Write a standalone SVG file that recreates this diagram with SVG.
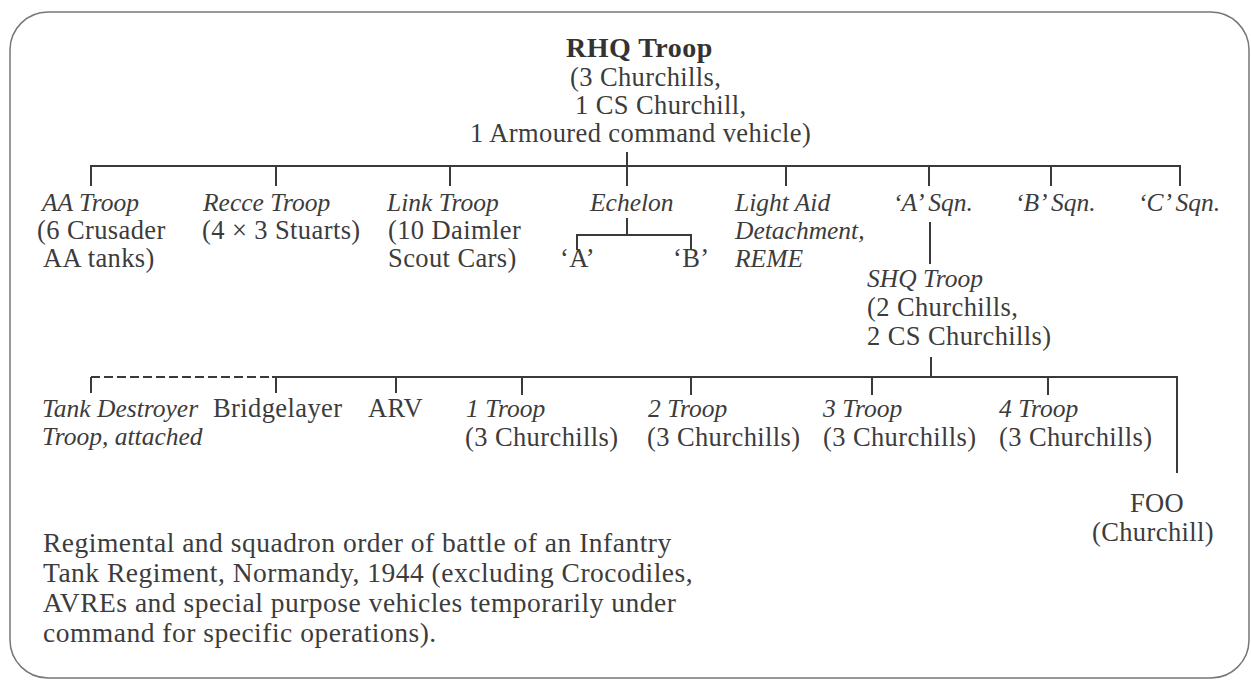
<svg xmlns="http://www.w3.org/2000/svg" width="1251" height="681" viewBox="0 0 1251 681">
<style>
text{font-family:"Liberation Serif","Times New Roman",serif;font-size:26.5px;fill:#3c3c3c;letter-spacing:0.4px}
.i{font-style:italic;font-size:25.5px;letter-spacing:0}
.b{font-weight:bold;font-size:28px;fill:#333;letter-spacing:0.5px}
.cap{font-size:27.5px;letter-spacing:0.5px}
.ln{stroke:#3a3a3a;stroke-width:2;fill:none}
.ds{stroke:#3a3a3a;stroke-width:2;fill:none;stroke-dasharray:9 4}
.frame{fill:#fff;stroke:#777;stroke-width:1.5}
</style>
<rect width="1251" height="681" fill="#fff"/>
<rect class="frame" x="10" y="12" width="1239" height="666" rx="38" ry="38"/>
<g id="connectors">
<path class="ln" d="M91 186V166H1180V186M276 166V186M450 166V186M627 152V186M786 166V186M929 166V186M1051 166V186"/>
<path class="ln" d="M627 218V235M577 250V235H691V250"/>
<path class="ln" d="M930 222V264"/>
<path class="ln" d="M931 357V377"/>
<path class="ds" d="M91 377H272"/>
<path class="ln" d="M91 377V393M272 377H1177V473M276 377V393M396 377V393M522 377V395M691 377V395M872 377V395M1048 377V395"/>
</g>
<g id="rhq"><text class="b" x="566" y="57">RHQ Troop</text><text x="570" y="86">(3 Churchills,</text><text x="575" y="114">1 CS Churchill,</text><text x="470" y="142">1 Armoured command vehicle)</text></g>
<g id="aa"><text class="i" x="42" y="211">AA Troop</text><text x="37" y="239">(6 Crusader</text><text x="43" y="267">AA tanks)</text></g>
<g id="recce"><text class="i" x="203" y="211">Recce Troop</text><text x="202" y="239">(4 × 3 Stuarts)</text></g>
<g id="link"><text class="i" x="387" y="211">Link Troop</text><text x="388" y="239">(10 Daimler</text><text x="388" y="267">Scout Cars)</text></g>
<g id="echelon"><text class="i" x="590" y="211">Echelon</text></g>
<g id="echelon-a"><text x="560" y="267">‘A’</text></g>
<g id="echelon-b"><text x="673" y="267">‘B’</text></g>
<g id="lad"><text class="i" x="735" y="211">Light Aid</text><text class="i" x="735" y="239">Detachment,</text><text class="i" x="735" y="267">REME</text></g>
<g id="a-sqn"><text class="i" x="893" y="211">‘A’ Sqn.</text></g>
<g id="b-sqn"><text class="i" x="1015" y="211">‘B’ Sqn.</text></g>
<g id="c-sqn"><text class="i" x="1138" y="211">‘C’ Sqn.</text></g>
<g id="shq"><text class="i" x="867" y="287">SHQ Troop</text><text x="867" y="316">(2 Churchills,</text><text x="867" y="345">2 CS Churchills)</text></g>
<g id="tank-destroyer"><text class="i" x="42" y="417">Tank Destroyer</text><text class="i" x="42" y="445">Troop, attached</text></g>
<g id="bridgelayer"><text x="213" y="417">Bridgelayer</text></g>
<g id="arv"><text x="368" y="417">ARV</text></g>
<g id="troop1"><text class="i" x="466" y="417">1 Troop</text><text x="465" y="446">(3 Churchills)</text></g>
<g id="troop2"><text class="i" x="648" y="417">2 Troop</text><text x="647" y="446">(3 Churchills)</text></g>
<g id="troop3"><text class="i" x="823" y="417">3 Troop</text><text x="823" y="446">(3 Churchills)</text></g>
<g id="troop4"><text class="i" x="999" y="417">4 Troop</text><text x="999" y="446">(3 Churchills)</text></g>
<g id="foo"><text x="1157" y="512" text-anchor="middle">FOO</text><text x="1153" y="541" text-anchor="middle">(Churchill)</text></g>
<g id="caption"><text class="cap" x="43" y="552">Regimental and squadron order of battle of an Infantry</text><text class="cap" x="43" y="582">Tank Regiment, Normandy, 1944 (excluding Crocodiles,</text><text class="cap" x="43" y="612">AVREs and special purpose vehicles temporarily under</text><text class="cap" x="43" y="642">command for specific operations).</text></g>
</svg>
